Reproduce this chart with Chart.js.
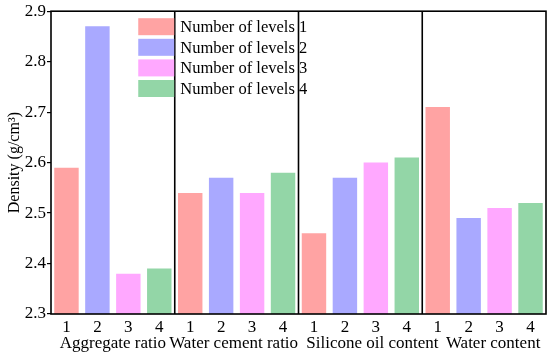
<!DOCTYPE html>
<html>
<head>
<meta charset="utf-8">
<script src="https://cdn.jsdelivr.net/npm/chart.js@4/dist/chart.umd.min.js"></script>
<style>
  html, body { margin: 0; padding: 0; background: #fff; }
  #wrap { width: 550px; height: 358px; }
</style>
</head>
<body>
<div id="wrap"><canvas id="c" width="550" height="358"></canvas></div>
<script>
// ---- data ----
const groups = ['Aggregate ratio', 'Water cement ratio', 'Silicone oil content', 'Water content'];
const levels = ['1', '2', '3', '4'];
const level1 = [2.59, 2.54, 2.46, 2.71];
const level2 = [2.87, 2.57, 2.57, 2.49];
const level3 = [2.38, 2.54, 2.60, 2.51];
const level4 = [2.39, 2.58, 2.61, 2.52];
const yTicks = [2.3, 2.4, 2.5, 2.6, 2.7, 2.8, 2.9];
const legendLabels = ['Number of levels 1', 'Number of levels 2', 'Number of levels 3', 'Number of levels 4'];

const colors = ['#FFA3A3', '#A9A9FF', '#FFA8FF', '#93D6A7'];
const seriesByLevel = [level1, level2, level3, level4];
// horizontal nudges of the group captions (layout only)
const groupLabelShift = [0, -3, 12, 9];

// categories: each group repeats the level labels
const categories = [];
groups.forEach(() => levels.forEach(l => categories.push(l)));

const datasets = seriesByLevel.map((vals, li) => {
  const data = [];
  groups.forEach((g, gi) => {
    levels.forEach((l, lj) => data.push(lj === li ? vals[gi] : null));
  });
  return {
    label: legendLabels[li],
    data: data,
    backgroundColor: colors[li],
    borderWidth: 0,
    grouped: false,
    barPercentage: 0.79,
    categoryPercentage: 1.0
  };
});

const FONT = 'Liberation Serif';

const decor = {
  id: 'decor',
  afterDatasetsDraw(chart) {
    const ctx = chart.ctx;
    const a = chart.chartArea;
    const xs = chart.scales.x;
    ctx.save();
    // separators
    ctx.strokeStyle = '#000';
    ctx.lineWidth = 1.6;
    const seps = [];
    for (let g = 1; g < groups.length; g++) {
      const i = g * levels.length;
      const px = (xs.getPixelForValue(i - 1) + xs.getPixelForValue(i)) / 2;
      seps.push(px);
      ctx.beginPath();
      ctx.moveTo(px, a.top);
      ctx.lineTo(px, a.bottom);
      ctx.stroke();
    }
    // frame
    ctx.strokeRect(a.left, a.top, a.right - a.left, a.bottom - a.top);

    // legend
    const boxRight = seps[0] - 0.5;
    const boxW = 36, boxH = 17;
    ctx.font = '16.5px "' + FONT + '"';
    ctx.textBaseline = 'middle';
    ctx.textAlign = 'left';
    chart.data.datasets.forEach((ds, i) => {
      const top = a.top + 7 + i * 20.6;
      ctx.fillStyle = ds.backgroundColor;
      ctx.fillRect(boxRight - boxW, top, boxW, boxH);
      ctx.fillStyle = '#000';
      ctx.fillText(ds.label, boxRight + 6, top + boxH / 2 + 1);
    });

    // group labels
    ctx.font = '17px "' + FONT + '"';
    ctx.textAlign = 'center';
    ctx.textBaseline = 'middle';
    groups.forEach((g, gi) => {
      const i0 = gi * levels.length;
      const cx = (xs.getPixelForValue(i0) + xs.getPixelForValue(i0 + levels.length - 1)) / 2;
      ctx.fillText(g, cx + groupLabelShift[gi], 344);
    });
    ctx.restore();
  }
};

new Chart(document.getElementById('c'), {
  type: 'bar',
  data: { labels: categories, datasets: datasets },
  options: {
    responsive: false,
    animation: false,
    layout: { padding: { top: 11, right: 4, left: 0, bottom: 0 } },
    plugins: { legend: { display: false }, tooltip: { enabled: false } },
    scales: {
      x: {
        grid: { display: false, drawTicks: false },
        border: { display: false },
        ticks: { color: '#000', font: { family: FONT, size: 17 }, padding: 3, maxRotation: 0, autoSkip: false },
        afterFit(s) { s.height = 44; }
      },
      y: {
        min: 2.3, max: 2.9,
        grid: { display: true, drawOnChartArea: false, drawTicks: true, tickLength: 4, color: '#000', lineWidth: 1.2 },
        border: { display: false },
        afterBuildTicks(s) { s.ticks = yTicks.map(v => ({ value: v })); },
        ticks: {
          color: '#000', font: { family: FONT, size: 17 }, padding: 1,
          callback: v => Number(v).toFixed(1)
        },
        title: {
          display: true, text: 'Density (g/cm³)', color: '#000',
          font: { family: FONT, size: 16 }, padding: { top: 5, bottom: 0 }
        },
        afterFit(s) { s.width = 51; }
      }
    }
  },
  plugins: [decor]
});
</script>
</body>
</html>
